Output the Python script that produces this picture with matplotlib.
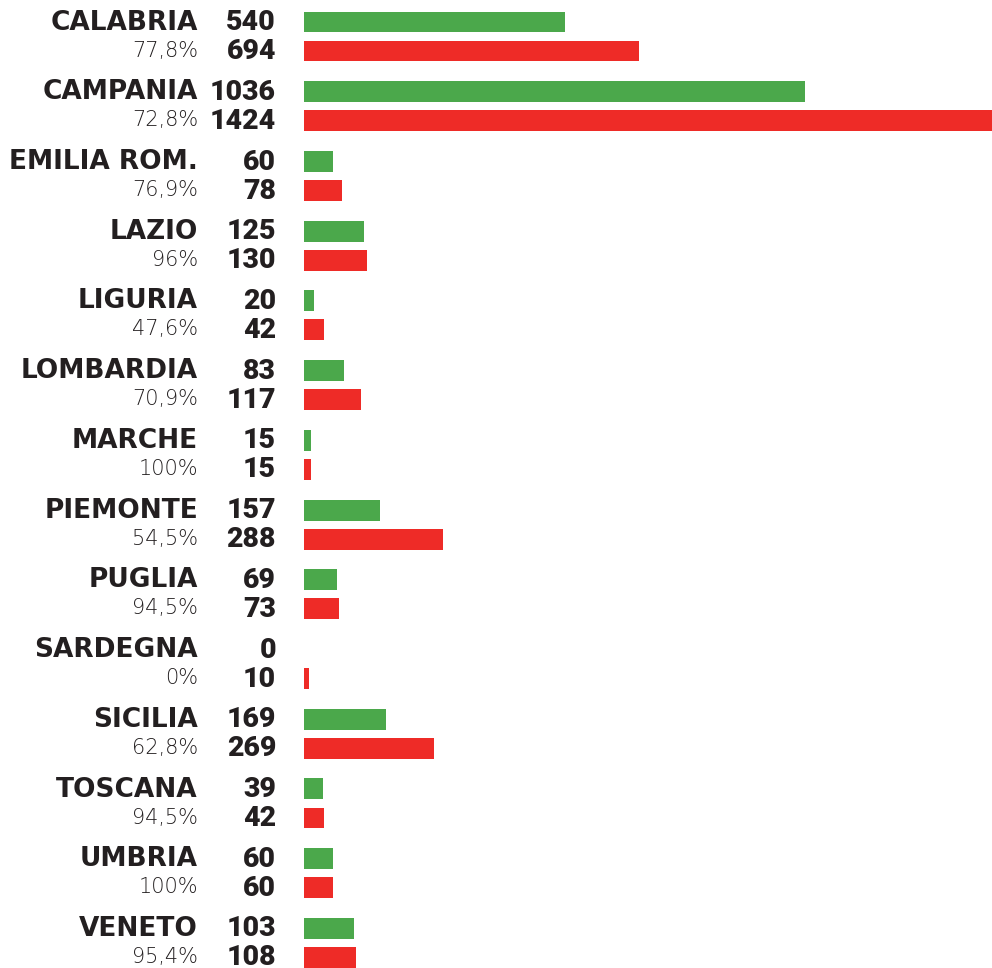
import matplotlib
matplotlib.use("Agg")
import matplotlib.pyplot as plt
import matplotlib.transforms as mtransforms
import numpy as np

regions = ["CALABRIA", "CAMPANIA", "EMILIA ROM.", "LAZIO", "LIGURIA", "LOMBARDIA",
           "MARCHE", "PIEMONTE", "PUGLIA", "SARDEGNA", "SICILIA", "TOSCANA",
           "UMBRIA", "VENETO"]
green_vals = [540, 1036, 60, 125, 20, 83, 15, 157, 69, 0, 169, 39, 60, 103]
red_vals = [694, 1424, 78, 130, 42, 117, 15, 288, 73, 10, 269, 42, 60, 108]
percents = ["77,8%", "72,8%", "76,9%", "96%", "47,6%", "70,9%", "100%",
            "54,5%", "94,5%", "0%", "62,8%", "94,5%", "100%", "95,4%"]

GREEN = "#4BA84B"
RED = "#EE2B27"
INK = "#231F20"

W, H = 992, 968
fig = plt.figure(figsize=(W / 100, H / 100), dpi=100)
ax = fig.add_axes([304 / W, 0, 1 - 304 / W, 1])

y = np.arange(len(regions))
off = 0.208
bh = 0.30
ax.barh(y - off, green_vals, height=bh, color=GREEN)
ax.barh(y + off, red_vals, height=bh, color=RED)
ax.set_xlim(0, max(red_vals))
ax.set_ylim(13.36, -0.524)
ax.axis("off")

# labels: x in figure fraction, y in data units
trans = mtransforms.blended_transform_factory(fig.transFigure, ax.transData)
names = dict(family="DejaVu Sans", weight="heavy", fontsize=19, color=INK)
nums = dict(family="Roboto", weight="black", fontsize=20.5, color=INK)
light = dict(family="DejaVu Sans", weight="light", fontsize=15, color=INK)
lift = 0.035
for i in range(len(regions)):
    yg = y[i] - off - lift
    yr = y[i] + off - lift
    ax.text(198 / W, yg, regions[i], transform=trans, ha="right",
            va="center_baseline", **names)
    ax.text(198 / W, yr, percents[i], transform=trans, ha="right",
            va="center_baseline", **light)
    ax.text(276 / W, yg, str(green_vals[i]), transform=trans, ha="right",
            va="center_baseline", **nums)
    ax.text(276 / W, yr, str(red_vals[i]), transform=trans, ha="right",
            va="center_baseline", **nums)

fig.savefig("out.png", dpi=100)
